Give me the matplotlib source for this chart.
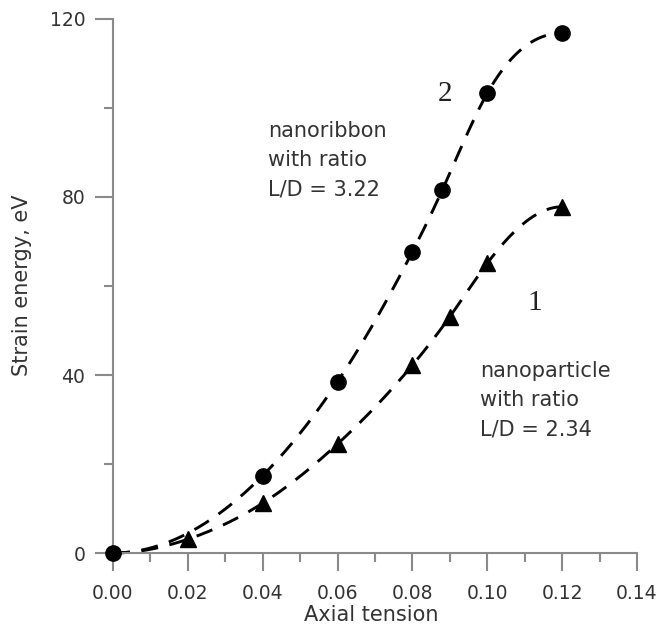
import numpy as np
import matplotlib
matplotlib.use("Agg")
import matplotlib.pyplot as plt
from matplotlib.ticker import MultipleLocator, FixedLocator

# Strain energy (eV) versus axial tension for the two samples
tension_ribbon = [0.00, 0.04, 0.06, 0.08, 0.088, 0.10, 0.12]
energy_ribbon = [0.0, 17.4, 38.5, 67.7, 81.6, 103.3, 116.8]

tension_particle = [0.00, 0.02, 0.04, 0.06, 0.08, 0.09, 0.10, 0.12]
energy_particle = [0.0, 3.1, 11.2, 24.5, 42.2, 53.1, 65.1, 77.8]

x_ticks = [0.00, 0.02, 0.04, 0.06, 0.08, 0.10, 0.12, 0.14]
y_ticks = [0, 40, 80, 120]

ribbon_note = ["nanoribbon", "with ratio", "L/D = 3.22"]
particle_note = ["nanoparticle", "with ratio", "L/D = 2.34"]


def clamped_spline(x, y, xs, slope0=0.0, slope1=0.0):
    """Cubic spline through (x, y) with prescribed end slopes."""
    x = np.asarray(x, float)
    y = np.asarray(y, float)
    n = len(x)
    h = np.diff(x)
    delta = np.diff(y) / h
    A = np.zeros((n, n))
    b = np.zeros(n)
    A[0, 0], A[0, 1] = 2 * h[0], h[0]
    b[0] = 6 * (delta[0] - slope0)
    for i in range(1, n - 1):
        A[i, i - 1] = h[i - 1]
        A[i, i] = 2 * (h[i - 1] + h[i])
        A[i, i + 1] = h[i]
        b[i] = 6 * (delta[i] - delta[i - 1])
    A[-1, -2], A[-1, -1] = h[-1], 2 * h[-1]
    b[-1] = 6 * (slope1 - delta[-1])
    M = np.linalg.solve(A, b)
    idx = np.clip(np.searchsorted(x, xs) - 1, 0, n - 2)
    hi = h[idx]
    a = x[idx + 1] - xs
    c = xs - x[idx]
    return (M[idx] * a**3 / (6 * hi) + M[idx + 1] * c**3 / (6 * hi)
            + (y[idx] / hi - M[idx] * hi / 6) * a
            + (y[idx + 1] / hi - M[idx + 1] * hi / 6) * c)


fig = plt.figure(figsize=(6.6, 6.31), dpi=100)
ax = fig.add_axes([0.1712, 0.1236, 0.7939, 0.8463])

axis_grey = "#8a8a8a"
text_col = "#333333"
dash = dict(color="black", lw=2.1, dashes=(5.8, 4.0), clip_on=False)

for xs_, ys_ in ((tension_ribbon, energy_ribbon),
                 (tension_particle, energy_particle)):
    xx = np.linspace(xs_[0], xs_[-1], 400)
    ax.plot(xx, clamped_spline(xs_, ys_, xx), **dash)

ax.plot(tension_particle, energy_particle, linestyle="none", marker="^",
        markersize=11, color="black", markevery=slice(1, None),
        clip_on=False, zorder=4)
ax.plot(tension_ribbon, energy_ribbon, linestyle="none", marker="o",
        markersize=11, color="black", clip_on=False, zorder=5)

ax.set_xlim(0, 0.14)
ax.set_ylim(0, 120)
ax.xaxis.set_major_locator(FixedLocator(x_ticks))
ax.yaxis.set_major_locator(FixedLocator(y_ticks))
ax.xaxis.set_minor_locator(MultipleLocator(0.01))
ax.yaxis.set_minor_locator(MultipleLocator(20))
ax.set_xticklabels([f"{v:.2f}" for v in x_ticks])
ax.set_yticklabels([f"{v:d}" for v in y_ticks])

for side in ("top", "right"):
    ax.spines[side].set_visible(False)
for side in ("left", "bottom"):
    ax.spines[side].set_color(axis_grey)
    ax.spines[side].set_linewidth(1.5)

ax.tick_params(which="both", direction="out", color=axis_grey, width=1.5)
ax.tick_params(which="major", length=13, labelsize=13.5, labelcolor=text_col)
ax.tick_params(which="minor", length=6.5)
ax.tick_params(axis="y", which="major", pad=7)
ax.tick_params(axis="x", which="major", pad=9)

ax.set_xlabel("Axial tension", fontsize=15, color=text_col, va="center")
ax.xaxis.set_label_coords(0.492, -0.116)
ax.set_ylabel("Strain energy, eV", fontsize=15, color=text_col, va="center")
ax.yaxis.set_label_coords(-0.1737, 0.502)

line_gap = 29.5 * 72 / 100  # points between baselines
for lines, (x0, y0) in ((ribbon_note, (0.0414, 93.5)),
                        (particle_note, (0.098, 39.6))):
    for i, line in enumerate(lines):
        ax.annotate(line, (x0, y0), xytext=(0, -i * line_gap),
                    textcoords="offset points", fontsize=15,
                    color=text_col, ha="left", va="baseline")

serif = dict(fontsize=21, family="Liberation Serif", color="#222222",
             ha="center", va="center")
ax.text(0.0887, 103.1, "2", **serif)
ax.text(0.1127, 56.2, "1", **serif)

fig.savefig("out.png", dpi=100)
